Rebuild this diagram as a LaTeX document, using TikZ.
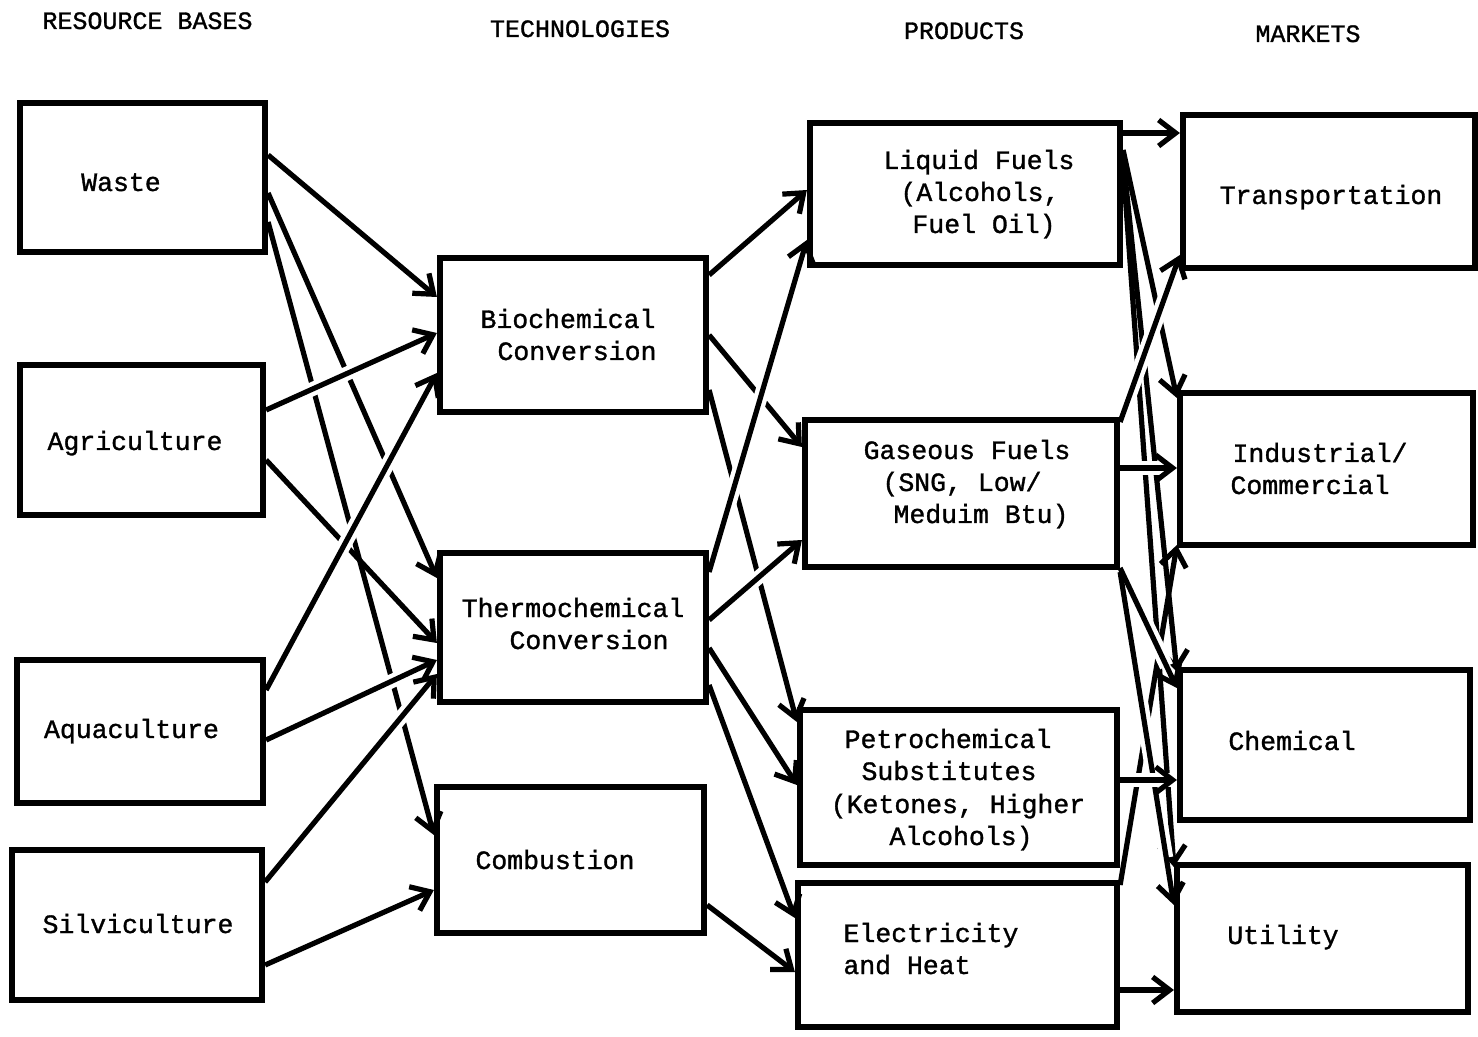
\documentclass[tikz,border=0pt]{standalone}
\usepackage{fontspec}
\setmainfont{Liberation Mono}[FakeBold=1.2]
\usetikzlibrary{arrows.meta,backgrounds}
\newcommand\bx[5]{\node[box, minimum width={(#4-#2)*0.5pt}, minimum height={(#5-#3)*0.5pt}] (#1) at ({(#2+#4)/2},{(#3+#5)/2}) {};}
\begin{document}
\begin{tikzpicture}[x=0.5pt,y=-0.5pt,
  box/.style={draw, line width=3.1pt, inner sep=0pt},
  lbl/.style={anchor=base, inner sep=0pt, font=\fontsize{13.25pt}{16pt}\selectfont},
  hd/.style={anchor=base, inner sep=0pt, font=\fontsize{12.5pt}{15pt}\selectfont},
  con/.style={line width=2.6pt, -{Straight Barb[length=8.5pt,width=13pt]}},
  hop/.style 2 args={preaction={draw=white, line width=7pt, arrows=-, shorten <=#1, shorten >=#2}}]
\useasboundingbox (0,0) rectangle (1478,1037);

% headers
\node[hd] (h1) at (147.5,29) {RESOURCE BASES};
\node[hd] (h2) at (580,37) {TECHNOLOGIES};
\node[hd] (h3) at (964,39) {PRODUCTS};
\node[hd] (h4) at (1308,42) {MARKETS};

% boxes
\bx{waste}{20}{103}{265}{252}
\bx{agri}{20}{365}{263}{515}
\bx{aqua}{17}{660}{263}{803}
\bx{silv}{12}{850}{262}{1000}
\bx{bio}{440}{258}{706}{412}
\bx{thermo}{440}{553}{706}{702}
\bx{comb}{437}{787}{704}{933}
\bx{liquid}{810}{123}{1120}{265}
\bx{gas}{805}{420}{1117}{567}
\bx{petro}{800}{710}{1117}{865}
\bx{elec}{798}{883}{1117}{1027}
\bx{trans}{1183}{115}{1475}{268}
\bx{indus}{1180}{393}{1473}{545}
\bx{chem}{1180}{670}{1470}{820}
\bx{util}{1177}{865}{1468}{1012}

% labels
\node[lbl] (lwaste) at (121,191) {Waste};
\node[lbl] (lagri) at (135,450) {Agriculture};
\node[lbl] (laqua) at (131.5,738) {Aquaculture};
\node[lbl] (lsilv) at (138,933) {Silviculture};
\node[lbl] (lbio1) at (568,328) {Biochemical};
\node[lbl] (lbio2) at (577,360) {Conversion};
\node[lbl] (lth1) at (573,617) {Thermochemical};
\node[lbl] (lth2) at (589,649) {Conversion};
\node[lbl] (lcomb) at (555,869) {Combustion};
\node[lbl] (lliq1) at (979,169) {Liquid Fuels};
\node[lbl] (lliq2) at (980,201) {(Alcohols,};
\node[lbl] (lliq3) at (984,233) {Fuel Oil)};
\node[lbl] (lgas1) at (967,459) {Gaseous Fuels};
\node[lbl] (lgas2) at (962,491) {(SNG, Low/};
\node[lbl] (lgas3) at (981,523) {Meduim Btu)};
\node[lbl] (lpet1) at (948,748) {Petrochemical};
\node[lbl] (lpet2) at (949,780) {Substitutes};
\node[lbl] (lpet3) at (958,813) {(Ketones, Higher};
\node[lbl] (lpet4) at (961,845) {Alcohols)};
\node[lbl] (lel1) at (931,942) {Electricity};
\node[lbl] (lel2) at (907,974) {and Heat};
\node[lbl] (ltr) at (1331,204) {Transportation};
\node[lbl] (lin1) at (1320,462) {Industrial/};
\node[lbl] (lin2) at (1310,494) {Commercial};
\node[lbl] (lch) at (1292,750) {Chemical};
\node[lbl] (lut) at (1283,944) {Utility};

\begin{scope}[on background layer]
% resource bases -> technologies
\draw[con] (waste.east |- 0,222) -- (comb.west |- 0,835);
\draw[con] (waste.east |- 0,193) -- (thermo.west |- 0,578);
\draw[con] (agri.east |- 0,460) -- (thermo.west |- 0,643);
\draw[con] (waste.east |- 0,155) -- (bio.west |- 0,297);
\draw[con,hop={14pt}{14pt}] (agri.east |- 0,410) -- (bio.west |- 0,333);
\draw[con,hop={14pt}{14pt}] (aqua.east |- 0,740) -- (thermo.west |- 0,660);
\draw[con,hop={14pt}{14pt}] (silv.east |- 0,882) -- (thermo.west |- 0,674);
\draw[con] (silv.east |- 0,965) -- (comb.west |- 0,890);
\draw[con,hop={14pt}{14pt}] (aqua.east |- 0,690) -- (bio.west |- 0,373);
% technologies -> products
\draw[con] (bio.east |- 0,390) -- (petro.west |- 0,722);
\draw[con] (bio.east |- 0,335) -- (gas.west |- 0,447);
\draw[con] (bio.east |- 0,275) -- (liquid.west |- 0,190);
\draw[con] (comb.east |- 0,905) -- (elec.west |- 0,972);
\draw[con,hop={14pt}{14pt}] (thermo.east |- 0,572) -- (liquid.west |- 0,240);
\draw[con,hop={14pt}{14pt}] (thermo.east |- 0,620) -- (gas.west |- 0,540);
\draw[con] (thermo.east |- 0,648) -- (petro.west |- 0,785);
\draw[con] (thermo.east |- 0,685) -- (elec.west |- 0,918);
% products -> markets
\draw[con] (elec.east |- 0,885) -- (indus.west |- 0,545);
\draw[con] (liquid.east |- 0,166) -- (util.west |- 0,867);
\draw[con] (liquid.east |- 0,158) -- (chem.west |- 0,672);
\draw[con] (liquid.east |- 0,150) -- (indus.west |- 0,398);
\draw[con] (liquid.east |- 0,133) -- (trans.west |- 0,133);
\draw[con,hop={20pt}{12pt}] (gas.east |- 0,568) -- (chem.west |- 0,688);
\draw[con,hop={20pt}{24pt}] (gas.east |- 0,572) -- (util.west |- 0,905);
\draw[con,hop={14pt}{14pt}] (gas.east |- 0,422) -- (trans.west |- 0,255);
\draw[con,hop={6pt}{6pt}] (gas.east |- 0,468) -- (indus.west |- 0,468);
\draw[con,hop={5pt}{2pt}] (petro.east |- 0,780) -- (chem.west |- 0,780);
\draw[con] (elec.east |- 0,990) -- (util.west |- 0,990);
\end{scope}
\end{tikzpicture}
\end{document}
